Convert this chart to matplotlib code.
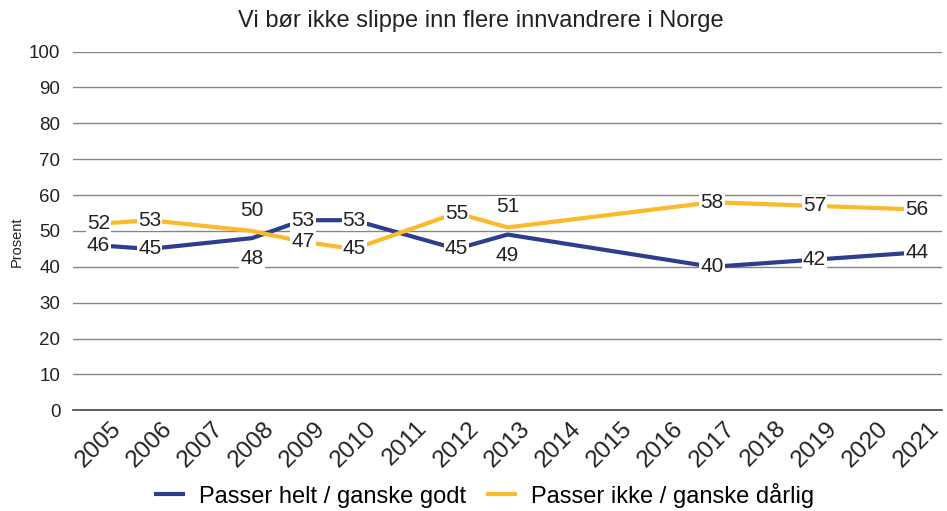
import matplotlib
matplotlib.use("Agg")
import matplotlib.pyplot as plt
import matplotlib.transforms as mtransforms

plt.rcParams['font.family'] = ['Liberation Sans', 'DejaVu Sans']

years = [str(y) for y in range(2005, 2022)]
point_years = [2005, 2006, 2008, 2009, 2010, 2012, 2013, 2017, 2019, 2021]
godt = [46, 45, 48, 53, 53, 45, 49, 40, 42, 44]
darlig = [52, 53, 50, 47, 45, 55, 51, 58, 57, 56]
godt_pos = ['c', 'c', 'below', 'c', 'c', 'c', 'below', 'c', 'c', 'c']
darlig_pos = ['c', 'c', 'above', 'c', 'c', 'c', 'above', 'c', 'c', 'c']

blue = '#2e3d8c'
yellow = '#fbb92b'
txt = '#222222'

fig = plt.figure(figsize=(9.47, 5.11), dpi=100)
ax = fig.add_axes([0.077, 0.197, 0.918, 0.702])

x_idx = [y - 2005 for y in point_years]
ax.plot(x_idx, godt, color=blue, lw=3, label='Passer helt / ganske godt', zorder=3, solid_capstyle='butt')
ax.plot(x_idx, darlig, color=yellow, lw=3, label='Passer ikke / ganske dårlig', zorder=3, solid_capstyle='butt')

def lab(xs, vals, pos):
    for x, v, p in zip(xs, vals, pos):
        if p == 'c':
            dy, va = 0, 'center'
        elif p == 'below':
            dy, va = -8, 'top'
        else:
            dy, va = 8, 'bottom'
        ax.annotate(str(v), (x, v), xytext=(0, dy), textcoords='offset points',
                    ha='center', va=va, fontsize=15, color=txt, zorder=5,
                    bbox=dict(boxstyle='square,pad=0.05', fc='white', ec='none'))

lab(x_idx, godt, godt_pos)
lab(x_idx, darlig, darlig_pos)

ax.set_xlim(-0.5, len(years) - 0.5)
ax.set_ylim(0, 100)
ax.set_yticks(range(0, 101, 10))
ax.set_xticks(range(len(years)))
ax.set_xticklabels(years, rotation=45, ha='center', va='top', fontsize=17.5, color=txt)
shift = mtransforms.ScaledTranslation(4 / 100, 0, fig.dpi_scale_trans)
for t in ax.get_xticklabels():
    t.set_transform(t.get_transform() + shift)
ax.tick_params(axis='y', length=0, labelsize=13.5, labelcolor=txt, pad=9)
ax.tick_params(axis='x', length=0, pad=5)
ax.grid(axis='y', color='#858585', lw=1)
ax.set_axisbelow(True)
for s in ['top', 'right', 'left']:
    ax.spines[s].set_visible(False)
ax.spines['bottom'].set_color('#444444')
ax.spines['bottom'].set_linewidth(1.2)

ax.set_ylabel('Prosent', fontsize=10.5, color=txt)
ax.yaxis.set_label_coords(-0.057, 0.47)
fig.text(0.508, 1 - 21 / 511, 'Vi bør ikke slippe inn flere innvandrere i Norge',
         ha='center', va='center', fontsize=17, color=txt)

fig.legend(loc='center', bbox_to_anchor=(0.511, 1 - 495 / 511), ncol=2, frameon=False,
           fontsize=17, handlelength=1.3, columnspacing=0.85, handletextpad=0.6)

fig.savefig('out.png', dpi=100)
